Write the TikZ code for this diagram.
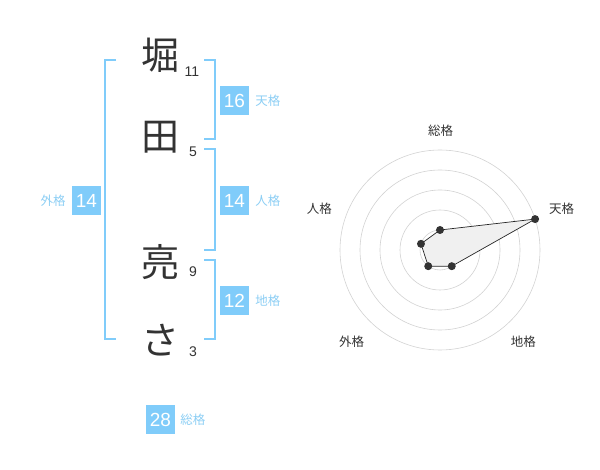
\documentclass[tikz,border=0pt]{standalone}
\usepackage{fontspec}
\setmainfont{Liberation Sans}
\newfontfamily\jp{Noto Sans CJK JP}
\usetikzlibrary{positioning}
\usetikzlibrary{calc}
\definecolor{kakublue}{RGB}{128,204,250}
\definecolor{kakutext}{RGB}{140,206,244}
\definecolor{ringgrey}{RGB}{210,210,210}
\tikzset{
  kanji/.style={font=\jp\fontsize{38}{38}\selectfont, text=black!80, inner sep=0pt},
  stroke/.style={font=\fontsize{14}{14}\selectfont, text=black!80, inner sep=0pt},
  kakubox/.style={fill=kakublue, text=white, minimum width=29pt, minimum height=29pt, inner sep=0pt, font=\fontsize{19}{19}\selectfont},
  kakulabel/.style={font=\jp\fontsize{12.5}{12.5}\selectfont, text=kakutext, inner sep=0pt},
  bracket/.style={draw=kakublue, line width=1.6pt},
  ring/.style={draw=ringgrey, line width=0.6pt},
  axislabel/.style={font=\jp\fontsize{12.5}{12.5}\selectfont, text=black!80, inner sep=0pt},
  dot/.style={circle, fill=black!80, inner sep=0pt, minimum size=8pt}
}
\newcommand{\radarpt}[3]{\coordinate (#1) at ($(centre)+(#2:#3)$);}
\begin{document}
\begin{tikzpicture}[x=1pt,y=-1pt]
\useasboundingbox (0,0) rectangle (600,470);

% name
\node[kanji] (hori) at (160,55) {堀};
\node[kanji] (ta) at (160,137) {田};
\node[kanji] (ryo) at (160,262) {亮};
\node[kanji] (sa) at (160,340) {さ};

\node[stroke] (s1) at (192,72) {11};
\node[stroke] (s2) at (193,152) {5};
\node[stroke] (s3) at (193,272) {9};
\node[stroke] (s4) at (193,352) {3};

% brackets
\draw[bracket] (116,60) -- (105,60) -- (105,339) -- (116,339);
\draw[bracket] (204,60) -- (215,60) -- (215,139) -- (204,139);
\draw[bracket] (204,149) -- (215,149) -- (215,250) -- (204,250);
\draw[bracket] (204,260) -- (215,260) -- (215,339) -- (204,339);

% kaku
\node[kakubox] (ten) at (234.5,100.5) {16};
\node[kakulabel, right=6pt of ten] (tenl) {天格};
\node[kakubox] (jin) at (234.5,200.5) {14};
\node[kakulabel, right=6pt of jin] (jinl) {人格};
\node[kakubox] (chi) at (234.5,300.5) {12};
\node[kakulabel, right=6pt of chi] (chil) {地格};
\node[kakubox] (gai) at (86.5,200.5) {14};
\node[kakulabel, left=6pt of gai] (gail) {外格};
\node[kakubox] (so) at (160.5,419.5) {28};
\node[kakulabel, right=5pt of so] (sol) {総格};

% radar
\coordinate (centre) at (440,250);
\foreach \r in {20,40,60,80,100}
  \draw[ring] (centre) circle[radius=\r];
\fill[ringgrey] (centre) circle[radius=3.5];

\node[axislabel] (ax1) at (440.7,130.7) {総格};
\node[axislabel] (ax2) at (561.7,208.3) {天格};
\node[axislabel] (ax3) at (523.3,341.7) {地格};
\node[axislabel] (ax4) at (351.7,341.7) {外格};
\node[axislabel] (ax5) at (319.3,208.3) {人格};

\radarpt{p1}{-90}{20}
\radarpt{p2}{-18}{100}
\radarpt{p3}{54}{20}
\radarpt{p4}{126}{20}
\radarpt{p5}{198}{20}
\filldraw[fill=black!6, draw=black!85, line width=0.7pt] (p1) -- (p2) -- (p3) -- (p4) -- (p5) -- cycle;
\foreach \p in {p1,p2,p3,p4,p5}
  \node[dot] at (\p) {};

\end{tikzpicture}
\end{document}
